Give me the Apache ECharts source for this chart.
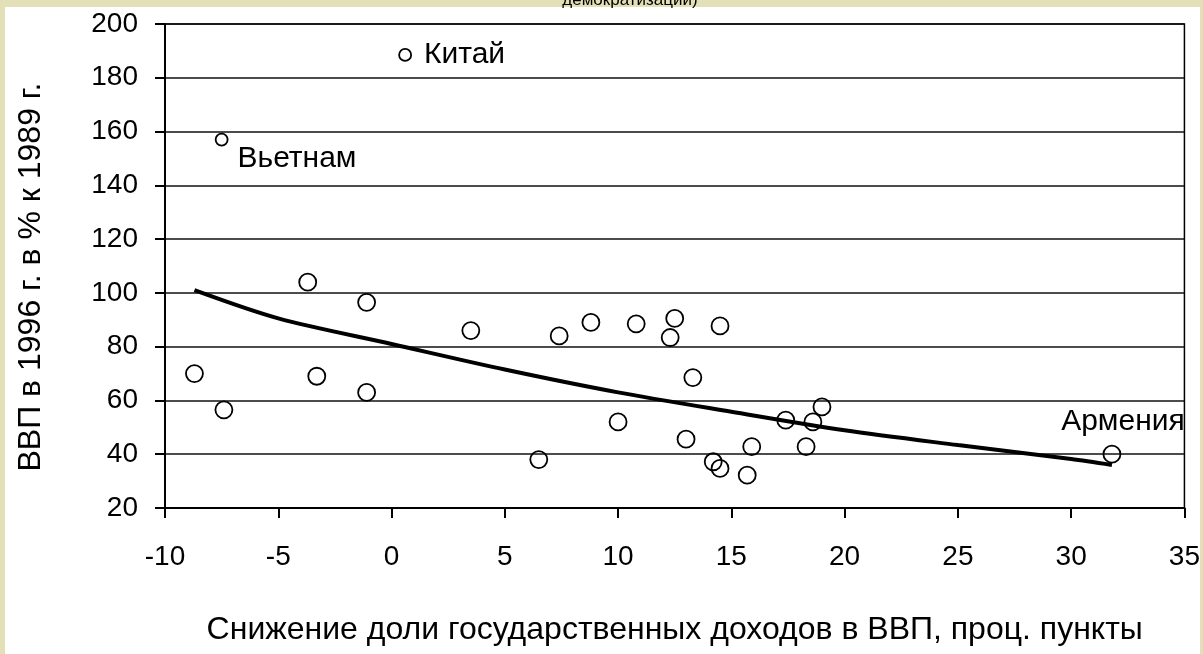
<!DOCTYPE html>
<html>
<head>
<meta charset="utf-8">
<script src="https://cdn.jsdelivr.net/npm/echarts@6/dist/echarts.min.js"></script>
<style>
  html, body { margin: 0; padding: 0; background: #e3dfb6; }
  #chart { width: 1203px; height: 654px; }
</style>
</head>
<body>
<div id="chart"></div>
<script>
// countries: drop in state revenue share (x) vs GDP 1996 as % of 1989 (y)
const pointX = [-8.7, -7.4, -3.7, -3.3, -1.1, -1.1, 3.5, 6.5, 7.4, 8.8, 10.0, 10.8,
  12.5, 12.3, 14.5, 13.3, 19.0, 18.6, 17.4, 13.0, 15.9, 18.3, 14.2, 14.5, 15.7];
const pointY = [70, 56.5, 104, 69, 96.5, 63, 86, 38, 84, 89, 52, 88.5,
  90.5, 83.4, 87.7, 68.5, 57.6, 52, 52.7, 45.6, 42.8, 42.8, 37.2, 34.7, 32.2];

const namedLabels = ["Китай", "Вьетнам", "Армения"];
const namedX = [0.6, -7.5, 31.8];
const namedY = [188.5, 157, 40];

// trend line
const trendX = [-8.7, -5, 0, 5, 10, 15, 20, 25, 30, 31.8];
const trendY = [101, 90.5, 81, 71.5, 63, 55.8, 48.9, 43.4, 38.2, 36];

const xTicks = [-10, 35, 5];   // min, max, step
const yTicks = [20, 200, 20];

const FONT = "'Liberation Sans', Arial, sans-serif";

const chart = echarts.init(document.getElementById("chart"));

const labelPos = {
  "Китай": { position: "right", distance: 12 },
  "Вьетнам": { position: "right", offset: [0, 19], distance: 9 },
  "Армения": { position: "top", offset: [11, 0], distance: 8 }
};

chart.setOption({
  backgroundColor: "#e3dfb6",
  animation: false,
  graphic: [
    {
      type: "rect", z: -10, silent: true,
      shape: { x: 5, y: 7, width: 1195, height: 660 },
      style: { fill: "#ffffff" }
    },
    {
      type: "text", z: 10,
      style: {
        text: "демократизации)", x: 630, y: 0,
        align: "center", verticalAlign: "middle",
        fontSize: 17, fontFamily: FONT, fill: "#000"
      }
    }
  ],
  grid: {
    left: 165, right: 18, top: 24, bottom: 146,
    show: true, borderColor: "#000", borderWidth: 1.5, backgroundColor: "transparent"
  },
  xAxis: {
    type: "value",
    min: xTicks[0], max: xTicks[1], interval: xTicks[2],
    name: "Снижение доли государственных доходов в ВВП, проц. пункты",
    nameLocation: "middle", nameGap: 106,
    nameTextStyle: { fontFamily: FONT, fontSize: 32, color: "#000" },
    axisLine: { onZero: false, lineStyle: { color: "#000", width: 2 } },
    axisTick: { inside: false, length: 10, lineStyle: { color: "#000", width: 2 } },
    axisLabel: { margin: 35, fontFamily: FONT, fontSize: 28, color: "#000" },
    splitLine: { show: false }
  },
  yAxis: {
    type: "value",
    min: yTicks[0], max: yTicks[1], interval: yTicks[2],
    name: "ВВП в 1996 г. в % к 1989 г.",
    nameLocation: "middle", nameGap: 118, nameRotate: 90,
    nameTextStyle: { fontFamily: FONT, fontSize: 32, color: "#000", padding: [0, 22, 0, 0] },
    axisLine: { onZero: false, lineStyle: { color: "#000", width: 2 } },
    axisTick: { inside: false, length: 10, lineStyle: { color: "#000", width: 2 } },
    axisLabel: { margin: 27, fontFamily: FONT, fontSize: 28, color: "#000" },
    splitLine: { show: true, lineStyle: { color: "#111", width: 1.5 } }
  },
  series: [
    {
      type: "line",
      data: trendX.map((x, i) => [x, trendY[i]]),
      showSymbol: false,
      smooth: 0.3,
      lineStyle: { color: "#000", width: 4 },
      z: 2
    },
    {
      type: "scatter",
      data: pointX.map((x, i) => [x, pointY[i]]),
      symbol: "circle", symbolSize: 17,
      itemStyle: { color: "rgba(255,255,255,0)", borderColor: "#000", borderWidth: 1.8, opacity: 1 },
      z: 3
    },
    {
      type: "scatter",
      data: namedLabels.map((n, i) => ({
        value: [namedX[i], namedY[i]],
        symbolSize: n === "Армения" ? 17 : 12,
        label: Object.assign({
          show: true, formatter: n,
          fontFamily: FONT, fontSize: 30, color: "#000"
        }, labelPos[n])
      })),
      symbol: "circle",
      itemStyle: { color: "rgba(255,255,255,0)", borderColor: "#000", borderWidth: 1.8, opacity: 1 },
      z: 3
    }
  ]
});
</script>
</body>
</html>
